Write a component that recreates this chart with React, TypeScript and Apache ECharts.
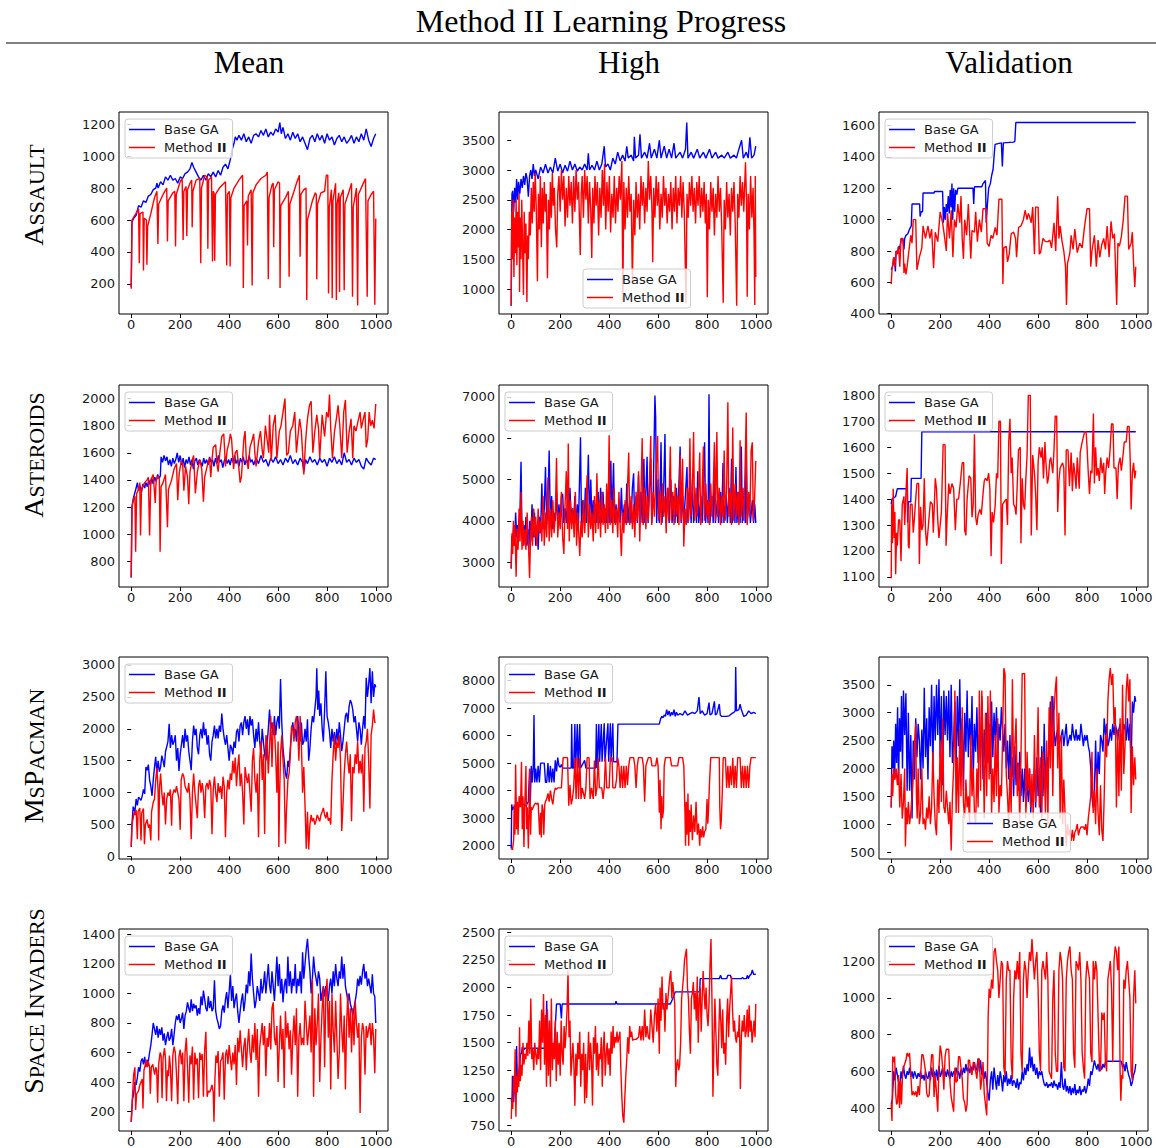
import React, { useEffect, useRef } from "react";
import * as echarts from "echarts";

type P = [number, number][];

// ---------- Titles ----------
const mainTitle = "Method II Learning Progress";
const columnTitles = ["Mean", "High", "Validation"];
const seriesNames = ["Base GA", "Method II"];
const xTicks = [0, 200, 400, 600, 800, 1000];

// ---------- ASSAULT ----------
const assaultMeanBase: P = [[0,180],[3,590],[10,610],[20,630],[30,690],[40,680],[50,720],[60,710],[70,750],[80,760],[90,790],[100,800],[105,830],[110,800],[120,840],[130,820],[140,870],[150,850],[160,880],[170,850],[180,860],[190,830],[200,870],[210,860],[220,890],[230,900],[240,920],[248,960],[255,930],[265,900],[275,870],[285,850],[295,880],[305,850],[315,890],[325,870],[335,900],[345,870],[355,910],[365,880],[375,930],[385,950],[395,920],[405,980],[412,1040],[420,1080],[425,1120],[432,1100],[440,1130],[450,1100],[460,1140],[470,1090],[480,1120],[490,1080],[500,1130],[510,1140],[520,1120],[530,1160],[540,1130],[550,1170],[560,1120],[570,1150],[580,1130],[590,1170],[600,1150],[607,1210],[613,1140],[620,1180],[630,1110],[640,1140],[650,1100],[660,1150],[670,1110],[680,1140],[690,1090],[700,1120],[710,1080],[720,1040],[730,1110],[740,1130],[750,1090],[760,1140],[770,1100],[780,1130],[790,1080],[800,1140],[810,1100],[820,1120],[830,1070],[840,1110],[850,1130],[860,1090],[870,1120],[880,1080],[890,1100],[900,1130],[910,1080],[920,1120],[930,1090],[940,1140],[950,1100],[960,1170],[970,1100],[980,1060],[990,1110],[999,1140]];
const assaultMeanMethod: P = [[0,170],[3,600],[15,630],[30,670],[33,330],[36,640],[48,650],[50,285],[53,610],[62,600],[64,320],[67,560],[80,640],[95,740],[105,780],[109,450],[112,700],[130,760],[145,800],[148,465],[151,720],[170,770],[178,780],[181,435],[184,760],[200,840],[208,860],[212,475],[215,780],[224,810],[227,500],[230,790],[240,830],[247,850],[249,555],[252,780],[265,850],[280,860],[284,330],[287,800],[300,880],[310,870],[313,420],[316,850],[328,870],[332,340],[335,780],[338,770],[341,345],[344,760],[360,800],[385,840],[390,315],[393,760],[401,780],[404,310],[407,740],[420,800],[440,850],[455,880],[458,175],[461,690],[472,720],[475,440],[478,750],[490,790],[494,190],[497,770],[510,820],[530,860],[550,880],[556,900],[560,230],[563,740],[575,820],[580,830],[582,430],[585,790],[600,840],[606,830],[608,175],[611,690],[630,740],[642,780],[645,245],[648,700],[665,780],[675,830],[687,880],[690,370],[693,760],[705,790],[714,800],[717,100],[720,600],[740,720],[752,770],[756,760],[758,230],[761,700],[775,770],[790,780],[797,880],[803,880],[806,140],[809,680],[818,790],[821,110],[824,720],[835,830],[838,100],[841,700],[848,770],[851,150],[854,740],[866,790],[870,160],[873,700],[890,780],[900,830],[904,120],[907,680],[920,800],[925,65],[928,760],[945,820],[957,860],[964,120],[967,720],[980,760],[990,780],[995,70],[999,610]];

const assaultHighBase: P = [[0,720],[1,1650],[3,2600],[6,2650],[10,2300],[14,2700],[18,2450],[22,2850],[26,2500],[30,2800],[35,2600],[40,2850],[45,2700],[50,2900],[55,2750],[60,2950],[65,2850],[70,2550],[75,2900],[80,3000],[85,2850],[90,3100],[95,2900],[100,3000],[110,2850],[120,3050],[130,2950],[140,3100],[150,2950],[160,3050],[170,2950],[180,3200],[190,2980],[200,3100],[210,2950],[220,3080],[230,2980],[240,3150],[250,3000],[260,3100],[270,2980],[280,3050],[290,3000],[300,3100],[310,3000],[315,3280],[320,3000],[330,3080],[340,3000],[350,3150],[360,3000],[370,3100],[380,3400],[385,3050],[395,3100],[405,3000],[415,3200],[425,3100],[435,3300],[445,3150],[455,3250],[465,3150],[472,3400],[478,3200],[490,3250],[500,3150],[503,3560],[508,3200],[520,3250],[526,3600],[532,3200],[545,3300],[555,3200],[565,3450],[572,3200],[585,3350],[595,3200],[605,3500],[612,3200],[625,3400],[635,3200],[645,3350],[655,3200],[665,3450],[672,3200],[690,3300],[700,3200],[712,3350],[717,3800],[722,3200],[735,3300],[745,3200],[760,3350],[770,3200],[785,3300],[795,3200],[810,3350],[820,3200],[835,3300],[845,3200],[860,3250],[870,3200],[885,3300],[895,3200],[910,3250],[920,3200],[930,3350],[941,3500],[948,3200],[960,3300],[968,3200],[975,3550],[982,3200],[992,3250],[999,3400]];
const assaultHighMethod: P = [[0,720],[2,2300],[5,1500],[8,2500],[11,1200],[14,2200],[17,1600],[20,2500],[23,1400],[26,2300],[29,1700],[32,2600],[34,950],[37,2200],[40,1500],[43,2500],[46,1800],[50,900],[53,2300],[56,1600],[60,2100],[64,780],[67,1900],[70,1500],[74,2300],[78,1900],[82,2700],[86,2100],[90,2800],[94,2300],[98,2950],[102,2400],[107,1130],[111,2600],[115,2000],[119,2900],[123,1700],[127,2700],[131,2100],[135,2800],[139,2300],[143,2600],[148,1180],[152,2500],[156,2000],[160,2800],[164,2200],[168,2950],[172,2400],[176,2700],[181,2000],[186,1700],[190,2600],[195,2900],[200,2300],[205,3000],[210,2500],[215,2900],[220,2050],[225,2700],[230,2200],[235,2900],[240,2400],[245,2800],[250,2100],[255,2900],[260,2300],[265,3000],[270,2500],[275,2800],[282,1570],[286,2600],[290,2900],[295,2200],[300,3000],[305,2500],[310,2900],[315,2100],[320,2800],[325,2300],[329,1520],[333,2700],[338,2100],[342,2900],[347,2400],[352,2800],[357,1900],[362,2700],[367,2200],[372,3000],[377,2400],[381,3100],[386,2000],[391,2800],[396,2300],[401,2900],[406,1950],[411,2600],[416,2200],[421,2900],[426,2100],[431,2700],[436,2300],[441,2900],[446,2500],[452,3150],[456,800],[460,2800],[465,2000],[470,2700],[475,2200],[480,2900],[485,2300],[490,2600],[495,1100],[500,2500],[505,1900],[510,2800],[515,2200],[520,2600],[525,2000],[530,2900],[535,2400],[540,2800],[545,2100],[550,2700],[555,2300],[560,3150],[565,2500],[570,2900],[575,2300],[578,1450],[582,2700],[587,2200],[592,2900],[597,2400],[602,2800],[607,2000],[612,2600],[617,2200],[622,2900],[627,2400],[632,2700],[637,2100],[642,2600],[647,2300],[652,2800],[657,2000],[662,2700],[667,2300],[672,2900],[677,2100],[682,2700],[687,2400],[692,2900],[697,2200],[702,2800],[707,2300],[714,760],[718,2600],[723,2200],[728,2800],[733,2400],[738,2900],[743,2300],[748,2700],[753,2100],[758,2800],[763,2400],[768,2900],[773,2200],[778,2700],[783,2300],[788,2800],[793,2100],[797,2600],[801,860],[805,2500],[810,2000],[815,2800],[820,2300],[825,2700],[830,1900],[835,2600],[840,2200],[845,2900],[850,2300],[855,2700],[860,2000],[866,770],[870,2500],[875,2000],[880,2800],[885,2200],[890,2600],[895,1900],[900,2700],[905,2300],[910,2800],[915,2100],[921,720],[925,2600],[930,2200],[935,2900],[940,2400],[945,2800],[950,2300],[957,3130],[961,2500],[964,870],[968,2600],[973,2000],[978,2900],[983,2200],[988,2700],[992,1900],[995,730],[997,2900],[999,1200]];

const assaultValBase: P = [[0,680],[5,700],[8,720],[10,760],[14,740],[17,670],[20,800],[26,790],[30,830],[34,810],[38,850],[42,880],[48,870],[52,810],[55,880],[60,900],[68,910],[75,940],[82,960],[85,1100],[116,1100],[118,1020],[122,1050],[128,1050],[130,1170],[175,1170],[177,1180],[210,1180],[213,980],[217,1080],[221,1000],[225,1100],[229,1050],[233,1150],[237,1040],[241,1190],[245,1080],[248,1230],[251,1000],[255,1200],[259,1050],[263,1190],[268,1160],[272,1200],[334,1200],[337,1100],[340,1210],[370,1210],[375,1230],[385,1250],[388,980],[393,1100],[398,1200],[405,1230],[410,1280],[416,1320],[420,1400],[424,1480],[450,1490],[454,1340],[458,1490],[500,1495],[505,1500],[509,1620],[999,1620]];
const assaultValMethod: P = [[0,590],[3,680],[10,760],[15,700],[20,800],[25,780],[30,830],[35,700],[40,880],[48,880],[52,660],[55,720],[60,650],[65,700],[72,800],[80,900],[85,850],[90,1000],[100,1000],[105,680],[115,760],[125,820],[130,960],[140,880],[150,960],[158,880],[165,940],[173,690],[180,920],[190,860],[200,1050],[210,980],[217,900],[225,800],[230,1040],[238,880],[245,1060],[252,760],[258,1000],[265,950],[272,1100],[280,980],[285,1150],[290,880],[295,750],[300,1000],[308,900],[315,1100],[320,930],[325,750],[330,930],[340,920],[345,1050],[352,860],[360,1000],[368,920],[375,1070],[388,1070],[392,850],[400,830],[408,900],[415,880],[425,950],[432,900],[440,1130],[452,1130],[456,590],[460,820],[470,830],[475,730],[482,780],[490,910],[500,920],[508,880],[512,760],[520,950],[530,960],[540,1000],[547,1060],[555,1000],[560,1040],[565,1020],[572,980],[578,1080],[585,780],[590,1080],[600,1080],[605,780],[610,790],[620,880],[630,860],[640,860],[648,870],[655,820],[665,980],[672,800],[680,1150],[685,880],[690,960],[698,860],[705,800],[712,700],[716,455],[720,720],[730,790],[735,900],[743,810],[750,940],[760,790],[770,850],[780,820],[790,960],[800,1070],[810,1070],[815,700],[820,800],[830,900],[838,700],[845,870],[852,760],[860,840],[868,880],[875,810],[882,960],[890,760],[898,990],[905,880],[912,910],[921,455],[926,850],[932,830],[940,890],[948,1000],[955,1150],[965,1150],[970,810],[980,850],[985,920],[990,720],[995,570],[999,700]];

// ---------- ASTEROIDS ----------
const asteroidsMeanBase: P = [[0,680],[3,1200],[8,1260],[14,1300],[20,1340],[25,1380],[30,1320],[36,1360],[42,1310],[48,1370],[55,1340],[60,1380],[66,1350],[72,1400],[78,1360],[84,1410],[90,1370],[96,1420],[102,1390],[108,1440],[114,1410],[119,1430],[122,1570],[128,1530],[134,1580],[140,1540],[146,1570],[152,1510],[158,1550],[164,1500],[170,1560],[176,1520],[182,1550],[188,1600],[194,1530],[200,1580],[206,1510],[212,1560],[218,1490],[224,1550],[230,1520],[236,1570],[242,1510],[248,1550],[254,1480],[260,1540],[266,1560],[272,1510],[278,1550],[284,1530],[290,1500],[296,1560],[302,1520],[308,1550],[314,1510],[320,1570],[326,1530],[332,1550],[338,1500],[344,1560],[350,1520],[356,1580],[362,1530],[368,1550],[374,1490],[380,1540],[386,1570],[392,1520],[398,1550],[404,1510],[410,1560],[416,1530],[422,1580],[428,1520],[434,1550],[440,1500],[446,1560],[452,1530],[458,1570],[464,1510],[470,1550],[476,1520],[482,1580],[488,1530],[494,1550],[500,1510],[510,1560],[520,1520],[530,1580],[540,1530],[550,1550],[560,1500],[570,1560],[580,1530],[590,1570],[600,1520],[610,1550],[620,1510],[630,1560],[640,1530],[650,1580],[660,1520],[670,1550],[680,1510],[690,1560],[700,1530],[705,1460],[712,1550],[720,1520],[730,1570],[740,1530],[750,1550],[760,1510],[770,1560],[780,1530],[790,1550],[800,1500],[810,1560],[820,1530],[830,1570],[840,1520],[850,1550],[860,1510],[870,1600],[880,1530],[890,1550],[900,1510],[910,1560],[920,1530],[930,1550],[940,1500],[950,1480],[960,1560],[970,1530],[980,1510],[990,1560],[999,1550]];
const asteroidsMeanMethod: P = [[0,680],[3,1200],[10,1260],[15,1280],[18,870],[22,1300],[30,1330],[35,1380],[38,990],[42,1330],[55,1380],[65,1400],[70,1420],[75,990],[80,1400],[90,1440],[98,1230],[102,1400],[110,1430],[115,1400],[118,870],[122,1350],[130,1380],[140,1440],[148,1050],[152,1330],[165,1400],[175,1480],[185,1520],[190,1250],[196,1450],[205,1540],[210,1520],[215,1320],[222,1500],[230,1420],[235,1220],[240,1460],[250,1550],[255,1580],[262,1300],[270,1460],[280,1550],[288,1480],[295,1240],[300,1420],[310,1500],[320,1560],[325,1420],[330,1550],[335,1640],[345,1660],[350,1520],[355,1460],[362,1600],[370,1720],[378,1740],[385,1500],[392,1620],[400,1680],[405,1740],[410,1700],[418,1480],[425,1600],[432,1620],[440,1480],[445,1380],[450,1420],[460,1700],[465,1760],[470,1560],[478,1480],[485,1640],[495,1700],[500,1740],[505,1600],[510,1500],[520,1680],[528,1760],[535,1620],[540,1560],[548,1800],[555,1700],[562,1600],[565,1880],[572,1540],[580,1800],[588,1880],[595,1560],[605,1760],[612,1800],[620,1900],[628,2000],[635,1580],[642,1600],[650,1760],[660,1800],[668,1900],[675,1600],[680,1700],[688,1850],[695,1760],[705,1440],[712,1680],[720,1850],[728,1950],[735,1980],[742,1600],[750,1760],[758,1880],[765,1780],[770,1560],[780,1880],[790,1720],[798,1900],[805,1860],[810,2030],[815,1780],[822,1560],[830,1750],[838,1850],[845,1950],[852,1800],[860,1560],[868,1900],[875,1990],[882,1600],[890,1750],[898,1850],[905,1560],[910,1800],[918,1760],[925,1820],[935,1900],[940,1780],[948,1850],[955,1900],[960,1640],[966,1700],[972,1900],[978,1800],[985,1840],[992,1780],[999,1960]];

const asteroidsHighBase: P = [[0,2850],[2,3630],[6,3500],[10,3900],[14,3400],[18,4200],[22,3600],[26,3900],[30,3500],[35,4000],[40,5430],[44,3700],[48,3400],[52,3900],[56,3500],[60,4100],[64,3400],[68,3800],[72,3300],[76,4000],[80,3500],[85,4400],[90,3600],[95,4200],[100,3400],[105,3900],[110,3300],[115,4100],[120,3700],[125,4900],[130,3800],[135,4300],[140,5300],[145,3900],[150,4400],[155,5700],[160,3900],[165,4600],[170,3800],[175,4200],[180,4000],[185,4700],[190,3950],[195,4400],[200,3950],[205,4600],[210,4650],[215,3950],[220,4300],[225,3950],[230,4500],[235,3950],[240,4800],[245,3950],[250,4300],[255,3950],[260,4600],[265,3950],[270,4400],[275,3950],[283,6020],[287,3950],[293,4500],[298,3950],[303,4800],[308,3950],[315,5600],[320,3950],[325,5000],[330,3950],[335,4500],[340,3950],[345,4400],[350,3950],[355,4700],[360,3950],[365,4800],[370,3950],[375,4700],[380,3950],[385,4300],[390,3950],[395,4600],[400,3950],[407,5450],[411,3950],[418,5400],[422,3950],[428,4400],[433,3950],[440,4500],[445,3950],[450,4800],[455,3950],[462,4400],[467,3950],[472,4900],[477,3950],[484,4500],[489,3950],[495,4800],[500,5150],[504,3950],[510,4600],[515,3950],[520,5100],[525,3950],[530,4700],[535,3950],[542,5500],[546,3950],[555,5550],[559,3950],[565,4800],[570,5500],[574,3950],[580,4600],[587,7030],[590,6500],[594,3950],[600,5000],[605,3950],[612,5900],[616,3950],[622,4600],[628,6100],[632,3950],[640,4800],[645,3950],[652,5000],[657,3950],[664,4600],[669,3950],[675,4800],[680,3950],[690,5800],[694,3950],[700,4600],[705,3950],[718,5300],[722,3950],[730,4700],[735,3950],[740,5000],[745,3950],[752,4600],[757,3950],[762,5200],[766,3950],[775,4600],[780,3950],[790,5900],[794,3950],[800,4500],[804,3950],[808,7060],[812,3950],[820,4600],[825,3950],[830,5400],[834,3950],[842,4500],[847,3950],[855,4700],[860,3950],[865,5400],[869,3950],[878,4600],[883,3950],[890,4800],[895,3950],[900,5500],[904,3950],[910,4600],[914,3950],[918,5300],[922,3950],[930,4700],[935,3950],[940,5800],[944,3950],[952,4800],[956,3950],[960,5700],[964,3950],[972,4600],[977,3950],[985,4500],[990,3950],[995,4400],[999,3950]];
const asteroidsHighMethod: P = [[0,2850],[3,3700],[6,3200],[9,4000],[12,3400],[15,3900],[20,2650],[24,3800],[28,3300],[32,4300],[36,3500],[40,4700],[44,3300],[48,4000],[52,3400],[56,3800],[60,3300],[65,4200],[70,3500],[75,2620],[79,3600],[83,4100],[87,3400],[92,4300],[96,3600],[100,4100],[105,3400],[110,4300],[115,3700],[120,4000],[125,3500],[130,4600],[135,3400],[140,4200],[145,3600],[150,5050],[155,3500],[160,4300],[165,3600],[170,4500],[175,3700],[180,4100],[185,5520],[190,3600],[195,4200],[200,3800],[205,4700],[210,3600],[215,3200],[220,4400],[225,5200],[230,3800],[233,5870],[237,3500],[242,4500],[247,3800],[252,4300],[257,3600],[262,4700],[267,3400],[272,4200],[280,3150],[285,4000],[290,3600],[295,4500],[300,3700],[305,4300],[310,5100],[315,3600],[320,4400],[325,3800],[330,4200],[335,3500],[340,4600],[345,3700],[350,5150],[355,3800],[360,4500],[365,3600],[370,4700],[375,3900],[380,4400],[385,3700],[390,4900],[395,3800],[400,6070],[404,3900],[410,4500],[415,3700],[420,4800],[425,3900],[430,4300],[435,3600],[440,4700],[445,3900],[450,3150],[455,4200],[460,3700],[465,4500],[470,3900],[475,4800],[480,5650],[484,3900],[490,4600],[495,3800],[500,4400],[505,3600],[510,4700],[515,4000],[520,5200],[525,3500],[530,4600],[535,6000],[539,3900],[545,4800],[550,3800],[555,4600],[560,4000],[565,5000],[570,6050],[574,3900],[580,4700],[585,4100],[590,5000],[598,6050],[602,4000],[608,4700],[613,3900],[618,4900],[623,4100],[628,4600],[633,3700],[638,4800],[643,4000],[650,5800],[654,4000],[660,4700],[665,3900],[670,4900],[675,4100],[680,4600],[685,3900],[690,5600],[695,4000],[700,5500],[705,3380],[710,4300],[715,3900],[720,4800],[725,4000],[730,6000],[734,4100],[740,4700],[745,6150],[749,4000],[755,4800],[760,4100],[765,4600],[770,5650],[774,3900],[780,4700],[785,5800],[789,4000],[795,4900],[800,4100],[805,4500],[810,3900],[815,4900],[820,4100],[825,4700],[830,5900],[834,4000],[840,6150],[844,4100],[850,4800],[855,3900],[860,4600],[865,4100],[870,5700],[874,4000],[880,4800],[885,6870],[889,4100],[895,4700],[900,3900],[905,6260],[909,4000],[915,4900],[920,4100],[925,4700],[930,3900],[935,5950],[939,4100],[945,4800],[950,4000],[955,5200],[960,6620],[964,3900],[970,4700],[975,4100],[980,5700],[985,5900],[989,4000],[994,4500],[999,5450]];

const asteroidsValBase: P = [[0,1380],[3,1400],[18,1410],[25,1440],[65,1440],[67,1310],[70,1390],[80,1390],[82,1480],[122,1480],[125,1660],[999,1660]];
const asteroidsValMethod: P = [[0,1095],[2,1380],[5,1230],[8,1440],[12,1250],[15,1350],[18,1110],[22,1270],[25,1220],[30,1320],[35,1320],[40,1160],[45,1380],[52,1410],[55,1300],[60,1420],[65,1520],[70,1220],[73,1210],[78,1380],[85,1380],[90,1270],[95,1330],[100,1400],[105,1460],[112,1460],[115,1150],[120,1370],[125,1280],[130,1300],[135,1480],[140,1280],[145,1220],[152,1300],[160,1390],[168,1380],[172,1270],[180,1480],[185,1440],[190,1320],[195,1250],[205,1350],[212,1610],[220,1610],[224,1220],[228,1320],[235,1460],[240,1420],[248,1460],[255,1440],[262,1280],[268,1400],[275,1400],[282,1460],[290,1540],[296,1540],[300,1280],[305,1260],[310,1400],[318,1490],[325,1480],[330,1330],[335,1380],[340,1650],[345,1330],[350,1300],[355,1340],[362,1360],[368,1340],[375,1420],[380,1470],[385,1480],[392,1470],[398,1500],[403,1440],[408,1180],[412,1350],[418,1310],[425,1380],[430,1500],[435,1480],[440,1700],[446,1700],[450,1150],[455,1380],[462,1390],[470,1400],[475,1300],[480,1620],[485,1710],[490,1500],[494,1560],[500,1380],[505,1370],[510,1340],[515,1460],[520,1590],[527,1600],[530,1230],[535,1480],[540,1380],[545,1360],[550,1480],[555,1570],[560,1800],[568,1800],[572,1260],[578,1570],[585,1500],[590,1420],[595,1280],[600,1540],[605,1600],[612,1560],[617,1600],[622,1480],[628,1620],[632,1540],[638,1460],[642,1480],[648,1550],[652,1560],[660,1500],[665,1590],[670,1720],[676,1720],[680,1350],[685,1470],[690,1520],[700,1540],[705,1520],[710,1260],[715,1590],[722,1590],[728,1450],[735,1580],[740,1430],[745,1540],[750,1500],[755,1440],[760,1560],[768,1440],[772,1580],[780,1620],[790,1660],[796,1660],[800,1600],[805,1500],[810,1420],[815,1510],[820,1500],[826,1730],[830,1460],[835,1600],[840,1490],[845,1520],[850,1470],[856,1560],[862,1500],[868,1540],[872,1420],[876,1500],[882,1560],[888,1520],[894,1590],[900,1690],[906,1690],[910,1520],[918,1520],[923,1400],[928,1530],[935,1560],[940,1510],[946,1560],[952,1620],[960,1620],[965,1680],[972,1680],[976,1560],[980,1360],[985,1500],[990,1540],[995,1480],[999,1510]];

// ---------- MSPACMAN ----------
const pacmanMeanBase: P = [[0,150],[3,500],[8,780],[15,700],[20,900],[25,800],[30,930],[40,880],[45,950],[50,1050],[55,980],[60,1400],[65,1350],[70,1440],[75,1200],[80,1100],[85,950],[90,1200],[95,1400],[100,1560],[105,1300],[110,1500],[115,1330],[120,1400],[125,1580],[130,1500],[135,1400],[140,1640],[150,1800],[155,2080],[160,1700],[165,1900],[170,1750],[175,1800],[180,1900],[185,1500],[190,1700],[195,1340],[200,1600],[205,1750],[210,1900],[215,1700],[220,2000],[225,1800],[230,1900],[235,1650],[240,1500],[245,1350],[250,1800],[255,2050],[260,1900],[265,2000],[270,1700],[275,1600],[280,1900],[285,2000],[290,1850],[295,2100],[300,1900],[305,2000],[310,1750],[315,1900],[320,1600],[325,1500],[330,1800],[335,1900],[340,2050],[345,1850],[350,2000],[355,1850],[360,2050],[365,1950],[370,2240],[375,2000],[380,1850],[385,1750],[390,1900],[395,1700],[400,1500],[405,1750],[410,1700],[415,1600],[420,1800],[425,1700],[430,1950],[435,2000],[440,1800],[445,2050],[450,2100],[455,1900],[460,2100],[465,2200],[470,2000],[475,2150],[480,1900],[485,2200],[490,2050],[495,2150],[500,1900],[505,1700],[510,2000],[515,1800],[520,2100],[525,1800],[530,1600],[535,2000],[540,1800],[545,1600],[550,1500],[555,1750],[560,2000],[565,2300],[570,2000],[575,2100],[580,1900],[585,2200],[590,1900],[595,2100],[600,2200],[605,2000],[610,2780],[615,2100],[620,1700],[625,1500],[630,1300],[635,1220],[640,1500],[645,1400],[650,1700],[655,1950],[660,2100],[665,1900],[670,2000],[675,1800],[680,2200],[685,1900],[690,1800],[695,2100],[700,1750],[705,1800],[710,2000],[715,1800],[720,2150],[725,1500],[730,1700],[735,2000],[740,2200],[745,2100],[750,2300],[755,2500],[758,2950],[762,2300],[766,2600],[770,2200],[775,2400],[780,2000],[785,1800],[790,2300],[795,2900],[800,2200],[805,2100],[810,1950],[815,1700],[820,2000],[825,1800],[830,1950],[835,1750],[840,2000],[845,1800],[850,2100],[855,1900],[860,1650],[865,1800],[870,2000],[875,2200],[880,2250],[885,2100],[890,2350],[895,2450],[900,2400],[905,2300],[910,2100],[915,2200],[920,2000],[925,1800],[930,2100],[935,2000],[940,1750],[945,2000],[950,2200],[955,2000],[960,2800],[965,2500],[970,2700],[975,2950],[980,2400],[985,2900],[990,2500],[995,2700],[999,2650]];
const pacmanMeanMethod: P = [[0,150],[3,500],[8,600],[12,700],[15,650],[20,730],[25,270],[28,700],[35,760],[40,250],[43,680],[50,750],[54,190],[58,500],[65,580],[70,450],[75,500],[80,250],[83,700],[90,850],[95,900],[100,1200],[105,1390],[110,1000],[112,250],[116,1100],[120,1300],[125,1000],[130,800],[135,1000],[140,500],[145,900],[150,1000],[155,950],[160,1050],[165,480],[168,950],[175,1050],[180,1000],[185,1100],[190,1000],[195,900],[200,420],[204,1200],[210,1300],[215,1250],[220,1100],[225,1050],[230,1000],[235,1150],[240,900],[245,270],[250,1000],[255,1300],[260,1000],[265,800],[270,600],[275,1100],[280,1200],[285,1000],[290,1150],[295,1000],[300,600],[305,1100],[310,1150],[315,1050],[320,1200],[325,1100],[330,350],[335,1050],[340,1250],[345,1000],[350,850],[355,1150],[360,1000],[365,1100],[370,900],[375,1250],[380,1100],[385,300],[390,1000],[395,1200],[400,1050],[405,1300],[410,1200],[415,1500],[420,1300],[425,1550],[430,1100],[435,1400],[440,1600],[445,1100],[450,1300],[455,1000],[460,500],[465,1400],[470,1250],[475,1150],[480,1300],[485,1000],[490,700],[495,1500],[500,1700],[505,1200],[510,1000],[515,1300],[520,300],[525,1500],[530,1800],[535,1200],[540,1600],[545,350],[550,1900],[555,1800],[560,1300],[565,1700],[570,2200],[575,1400],[580,2100],[585,2000],[590,1600],[595,1000],[600,1800],[603,150],[606,900],[610,1600],[615,1900],[620,1500],[625,1200],[630,200],[634,700],[640,1200],[645,1300],[650,1600],[655,2050],[660,2000],[665,1800],[670,2100],[675,2200],[680,2000],[685,1500],[690,2200],[695,1800],[700,1000],[705,1400],[710,800],[715,120],[720,700],[725,110],[730,500],[735,650],[740,550],[745,600],[750,500],[755,560],[760,650],[765,600],[770,550],[775,650],[780,700],[785,760],[790,650],[795,600],[800,700],[805,560],[810,600],[815,500],[820,1200],[825,1600],[830,1900],[835,1500],[840,1800],[845,1700],[850,1900],[855,1500],[860,400],[865,800],[870,1300],[875,1600],[880,1800],[885,1500],[890,1300],[895,1600],[900,550],[905,1400],[910,1300],[915,1600],[920,1450],[925,1800],[930,1300],[935,1500],[940,1300],[945,1600],[950,700],[955,1700],[960,1800],[965,2000],[970,1500],[975,750],[980,1900],[985,2050],[990,2300],[995,2100],[999,2100]];

const pacmanHighBase: P = [[0,1900],[2,3500],[5,3300],[10,3400],[20,3450],[30,3400],[40,3550],[50,3500],[60,3450],[70,3600],[75,4800],[78,3600],[82,4900],[86,4300],[90,4850],[93,6750],[96,4300],[100,4800],[105,4300],[110,4900],[115,4300],[120,5000],[135,5000],[140,4300],[145,4300],[150,5000],[155,4300],[160,4900],[165,4300],[170,4800],[175,4300],[180,5100],[185,4700],[190,5200],[195,4900],[200,4850],[205,4950],[210,4820],[245,4820],[247,6420],[250,4820],[255,4820],[260,6420],[263,4820],[270,6420],[273,4820],[280,6420],[283,4820],[300,5100],[305,4820],[345,4820],[348,6420],[351,4820],[358,6420],[361,5050],[368,6420],[371,5050],[380,6450],[383,5050],[395,6450],[398,5050],[405,6450],[408,5050],[415,6450],[418,5050],[432,5050],[436,6420],[605,6420],[610,6600],[615,6700],[620,6650],[625,6750],[630,6700],[635,6950],[640,6750],[645,6900],[650,6700],[655,6850],[660,6750],[665,6950],[670,6700],[675,6850],[680,6750],[690,6800],[700,6750],[710,6900],[720,6750],[730,6800],[740,6850],[750,6800],[760,6900],[767,7400],[772,6800],[780,6900],[790,6750],[800,6800],[808,7200],[812,6750],[820,6800],[830,7250],[834,6750],[840,6800],[850,7150],[854,6750],[860,6700],[870,6700],[880,6700],[890,6720],[900,6800],[910,6850],[915,6900],[917,8500],[920,6900],[930,6950],[935,7150],[940,6950],[950,6700],[960,6750],[970,6900],[980,6800],[990,6850],[999,6800]];
const pacmanHighMethod: P = [[0,1900],[5,1850],[10,2200],[12,3500],[15,2400],[18,4950],[22,2600],[25,3600],[28,2400],[32,3800],[38,3400],[42,5050],[45,2600],[48,3800],[52,1950],[55,3400],[60,4900],[63,2600],[66,3400],[70,1900],[73,3300],[76,4800],[79,2400],[82,3400],[85,3300],[90,3400],[95,3500],[100,3550],[105,3500],[110,3550],[113,3000],[116,2400],[120,3200],[123,2300],[126,3500],[130,3300],[133,2400],[137,3500],[140,3600],[145,3700],[150,3900],[155,3600],[160,4000],[165,3700],[170,3500],[175,3900],[180,4100],[185,4050],[190,4100],[205,4100],[212,5200],[230,5200],[235,3450],[240,4200],[245,3500],[250,3700],[255,4100],[260,5200],[265,3700],[270,5200],[275,3700],[280,5200],[285,3700],[290,4100],[300,3700],[305,4100],[310,5200],[318,5200],[322,3700],[328,4100],[335,3700],[340,5100],[345,3800],[350,4100],[355,5200],[360,4100],[370,4100],[375,3700],[380,4100],[385,5200],[390,4100],[400,4100],[405,5200],[412,5200],[415,4100],[425,4100],[430,4400],[435,5200],[440,4900],[445,4100],[450,4900],[455,4100],[460,4900],[465,4100],[470,4900],[475,4200],[480,4900],[485,5200],[500,5200],[505,4900],[510,4100],[515,4900],[520,5200],[535,5200],[540,4900],[545,3600],[550,4900],[560,5200],[570,5200],[575,4900],[590,4900],[595,5200],[600,4900],[605,3200],[608,4400],[612,2600],[615,3800],[618,3000],[622,3300],[625,4900],[630,5200],[650,5200],[655,4900],[680,4900],[685,5200],[700,5200],[705,4900],[710,3100],[712,2000],[715,3600],[718,2400],[722,3900],[725,2000],[728,3300],[732,2500],[735,3500],[740,2200],[745,3100],[750,2500],[755,3600],[760,2400],[765,2800],[770,2000],[773,2600],[778,2300],[782,2700],[786,2300],[790,2500],[795,2600],[800,3700],[803,2800],[806,3300],[810,4300],[815,5200],[850,5200],[852,3400],[855,2600],[858,2900],[862,3900],[866,5200],[875,5200],[880,4100],[885,4900],[890,4100],[895,4900],[900,4200],[905,5200],[910,4100],[915,4900],[920,4100],[925,5200],[935,5200],[940,4100],[945,4900],[950,4100],[955,4900],[960,4100],[965,4900],[970,4100],[975,4900],[980,5200],[999,5200]];

const pacmanValBase: P = [[0,1300],[3,2400],[7,2000],[10,2500],[14,1800],[18,2800],[22,2100],[26,3100],[30,1700],[34,2900],[38,2300],[42,3300],[46,2000],[50,3400],[55,2600],[60,3350],[65,1600],[70,3000],[75,1600],[80,2600],[85,1100],[90,2500],[95,1800],[100,2900],[105,2200],[110,2800],[115,2500],[120,1800],[125,2700],[130,2000],[135,3450],[140,2200],[145,2900],[150,1800],[155,3100],[160,2400],[165,3500],[170,2000],[175,3300],[180,2500],[185,3500],[190,2600],[195,3600],[200,2200],[205,3300],[210,1700],[215,3400],[220,2600],[225,3300],[230,2500],[235,3400],[240,2200],[245,3500],[250,2100],[255,2500],[260,3200],[265,2000],[270,3300],[275,2400],[280,3600],[285,2200],[290,2900],[295,1600],[300,3000],[305,2300],[310,3400],[315,2200],[320,2900],[325,2400],[330,3300],[335,1800],[340,2800],[345,2300],[350,3100],[355,2100],[360,2600],[365,2200],[370,3300],[375,1800],[380,2700],[385,2000],[390,3000],[395,2100],[400,2800],[405,1900],[410,3200],[415,2200],[420,3000],[425,2500],[430,3100],[435,2200],[440,2800],[445,2500],[450,3100],[455,2700],[460,2300],[465,2800],[470,2000],[475,2500],[480,1800],[485,2600],[490,1800],[495,2200],[500,1500],[505,2400],[510,1700],[515,2100],[520,1600],[525,2300],[530,1500],[535,2000],[540,1400],[545,2000],[550,1300],[555,1800],[560,1400],[565,2000],[570,1200],[575,1700],[580,1500],[585,2000],[590,1300],[595,2200],[600,1500],[605,2000],[610,1200],[615,2400],[620,1500],[625,2800],[630,1600],[635,2200],[640,2000],[645,2600],[650,3200],[655,2400],[660,3300],[665,2700],[670,2400],[675,2600],[680,2700],[685,2400],[690,2500],[695,2600],[700,2700],[705,2400],[710,2600],[715,2800],[720,2400],[725,2500],[730,2600],[735,2500],[740,2800],[745,2600],[750,2500],[755,2700],[760,2500],[765,2600],[770,2500],[775,2800],[780,2600],[785,2400],[790,2600],[795,2500],[800,2600],[805,2400],[810,2300],[815,2000],[820,1500],[825,1300],[830,1600],[835,2500],[840,1600],[845,2300],[850,1900],[855,2600],[860,2500],[865,2300],[870,2900],[875,2600],[880,2800],[885,2400],[890,2500],[895,2700],[900,2500],[905,2800],[910,2600],[915,2800],[920,2700],[925,2500],[930,2700],[935,2800],[940,2500],[945,2600],[950,2800],[955,2700],[960,2500],[965,2900],[970,2500],[975,2800],[980,2000],[985,3200],[990,3000],[995,3300],[999,3200]];
const pacmanValMethod: P = [[0,1300],[3,1900],[6,1500],[10,2000],[15,1800],[20,2000],[25,1700],[30,2000],[35,1300],[40,1900],[45,1100],[50,1400],[55,2000],[58,600],[62,1300],[66,1000],[70,1400],[75,1000],[80,1200],[85,1500],[90,1900],[95,2400],[100,2800],[103,1500],[106,1100],[110,2000],[115,1000],[120,1200],[125,2000],[130,1000],[135,1100],[140,900],[145,1300],[150,1100],[155,1500],[160,1000],[165,1300],[170,2300],[175,1500],[180,1000],[185,800],[190,1800],[195,1200],[200,2500],[205,1400],[210,2900],[215,1300],[220,1200],[225,1600],[230,1300],[235,1000],[240,1400],[245,530],[250,1500],[255,2000],[260,3400],[265,1200],[270,2200],[275,1200],[280,2700],[285,1500],[290,3100],[295,1400],[300,1100],[305,1800],[310,1300],[315,1500],[320,1000],[325,2600],[330,1500],[335,2000],[340,1200],[345,1000],[350,2000],[355,1300],[360,3400],[365,1600],[370,3400],[375,2500],[380,1100],[385,3000],[390,1500],[395,3300],[400,1800],[405,3400],[410,1200],[415,2000],[420,1400],[425,2600],[430,1500],[435,2900],[440,1200],[445,1700],[450,1500],[455,2600],[460,3800],[465,3700],[470,1900],[475,1500],[480,1000],[485,2000],[490,1200],[495,3600],[500,1800],[505,2400],[510,2900],[515,1500],[520,2100],[525,1000],[530,2200],[535,3700],[545,3700],[550,1100],[555,2300],[560,1600],[565,2000],[570,1300],[575,1900],[580,1100],[585,2600],[590,1400],[595,2000],[600,3100],[605,1300],[610,2200],[615,1100],[620,2300],[625,2000],[630,1200],[635,2500],[640,1000],[645,3100],[650,2000],[655,3300],[660,1500],[665,3000],[670,3400],[675,3650],[680,2000],[685,3000],[690,1100],[695,2600],[700,1000],[705,1800],[710,1200],[715,600],[720,1000],[725,800],[730,900],[735,700],[740,900],[745,700],[750,850],[755,900],[760,1000],[765,800],[770,900],[775,950],[780,950],[785,950],[790,900],[795,1000],[800,800],[805,1100],[810,1300],[815,1500],[820,2300],[825,1200],[830,1600],[835,1000],[840,2000],[845,1200],[850,800],[855,1700],[860,900],[865,700],[870,1500],[875,2600],[880,2200],[885,3200],[890,3600],[895,3800],[900,3500],[905,3700],[910,2800],[915,3100],[920,1300],[925,2700],[930,1500],[935,2900],[940,1600],[945,3500],[950,1900],[955,2400],[960,3400],[965,3700],[970,3200],[975,3600],[980,1200],[985,2400],[990,1700],[995,2200],[999,1800]];

// ---------- SPACE INVADERS ----------
const invadersMeanBase: P = [[0,130],[5,280],[10,320],[15,400],[20,380],[25,430],[30,500],[35,470],[40,540],[45,560],[50,520],[55,570],[60,500],[65,550],[70,540],[75,600],[80,650],[85,720],[90,800],[95,760],[100,720],[105,780],[110,700],[115,760],[120,720],[125,770],[130,680],[135,730],[140,650],[145,700],[150,740],[155,680],[160,700],[165,760],[170,650],[175,720],[180,800],[185,850],[190,820],[195,860],[200,800],[205,830],[210,870],[215,760],[220,850],[225,880],[230,940],[235,900],[240,870],[245,960],[250,880],[255,930],[260,900],[265,920],[270,850],[275,900],[280,860],[285,980],[290,920],[295,1020],[300,960],[305,900],[310,880],[315,980],[320,900],[325,950],[330,880],[335,900],[340,1090],[345,880],[350,830],[355,800],[360,760],[365,780],[370,880],[375,920],[380,870],[385,960],[390,1010],[395,900],[400,1010],[405,1130],[410,950],[415,1050],[420,900],[425,960],[430,1000],[435,880],[440,800],[445,880],[450,950],[455,1000],[460,880],[465,950],[470,1060],[475,1000],[480,1150],[485,1050],[490,1270],[495,1100],[500,1000],[505,900],[510,950],[515,1050],[520,1000],[525,950],[530,1100],[535,1000],[540,1050],[545,1150],[550,1000],[555,1100],[560,1200],[565,1060],[570,1000],[575,1150],[580,1050],[585,950],[590,1100],[595,1250],[600,1050],[605,1200],[610,1000],[615,1100],[620,940],[625,1050],[630,1100],[635,1000],[640,1250],[645,1050],[650,1150],[655,1000],[660,1100],[665,1050],[670,1200],[675,1000],[680,1100],[685,1050],[690,1150],[695,1000],[700,1280],[705,1100],[710,1200],[715,1300],[720,1370],[725,1250],[730,1150],[735,1000],[740,1100],[745,1250],[750,1150],[755,1100],[760,1050],[765,1150],[770,1100],[775,950],[780,1000],[785,1050],[790,980],[795,1050],[800,1000],[805,950],[810,1050],[815,1100],[820,1000],[825,1150],[830,1050],[835,1200],[840,1100],[845,1050],[850,1150],[855,1100],[860,1250],[865,1100],[870,1200],[875,1050],[880,1000],[885,950],[890,1000],[895,930],[900,900],[905,850],[910,900],[915,950],[920,1000],[925,1100],[930,1050],[935,1120],[940,1060],[945,1150],[950,1200],[955,1100],[960,1150],[965,1050],[970,1100],[975,1050],[980,1000],[985,1130],[990,1000],[995,980],[999,800]];
const invadersMeanMethod: P = [[0,130],[5,300],[10,450],[15,500],[18,210],[22,320],[30,340],[35,380],[40,400],[45,420],[48,220],[52,480],[58,520],[62,550],[66,500],[70,540],[75,500],[78,320],[82,500],[88,520],[92,480],[96,450],[100,500],[104,480],[108,260],[112,520],[118,600],[122,580],[126,290],[130,560],[136,630],[140,560],[144,270],[148,480],[152,440],[156,580],[160,500],[165,270],[170,580],[175,640],[180,600],[185,450],[190,250],[195,570],[200,620],[205,520],[210,600],[215,270],[220,600],[225,700],[230,500],[235,260],[240,580],[245,520],[250,640],[255,280],[260,600],[265,520],[270,560],[275,290],[280,600],[285,550],[290,590],[295,300],[300,620],[305,740],[310,300],[315,340],[320,330],[325,350],[330,380],[335,330],[338,130],[342,420],[346,580],[350,530],[355,610],[360,300],[365,540],[370,560],[375,600],[380,280],[385,580],[390,620],[395,520],[400,650],[405,560],[410,480],[415,600],[420,520],[425,650],[430,380],[435,700],[440,600],[445,750],[450,620],[455,500],[460,640],[465,700],[470,480],[475,650],[480,760],[485,600],[490,530],[495,720],[500,600],[505,800],[510,550],[515,760],[520,300],[525,640],[530,720],[535,800],[540,650],[545,780],[550,440],[555,700],[560,640],[565,800],[570,620],[575,900],[580,940],[585,700],[590,650],[595,780],[600,400],[605,650],[610,850],[615,620],[620,760],[625,360],[630,880],[635,700],[640,800],[645,620],[650,750],[655,450],[660,700],[665,850],[670,650],[675,900],[680,300],[685,700],[690,800],[695,650],[700,700],[705,650],[710,950],[715,800],[720,650],[725,750],[730,850],[735,600],[740,1100],[745,300],[750,900],[755,650],[760,800],[765,1000],[770,400],[775,700],[780,900],[785,1050],[790,500],[795,1000],[800,1100],[805,700],[810,950],[815,350],[820,1000],[825,750],[830,600],[835,950],[840,700],[845,420],[850,600],[855,1000],[860,750],[865,600],[870,850],[875,350],[880,800],[885,1000],[890,700],[895,900],[900,600],[905,900],[910,650],[915,950],[920,800],[925,700],[930,800],[935,190],[940,700],[945,800],[950,750],[955,450],[960,780],[965,700],[970,760],[975,800],[980,650],[985,800],[990,700],[995,460],[999,760]];

const invadersHighBase: P = [[0,1000],[3,930],[5,1200],[10,960],[15,1200],[20,1050],[22,1470],[25,1150],[30,1200],[35,1320],[38,1400],[42,1400],[45,1460],[50,1430],[55,1450],[140,1450],[145,1880],[148,1500],[150,1450],[160,1460],[175,1460],[180,1650],[185,1850],[200,1850],[205,1720],[208,1850],[425,1850],[428,1875],[432,1850],[650,1850],[660,1900],[670,1960],[770,1960],[772,2080],[850,2080],[855,2110],[860,2080],[880,2080],[885,2110],[895,2110],[900,2080],[940,2080],[945,2090],[950,2080],[960,2080],[965,2110],[968,2080],[975,2110],[980,2120],[985,2160],[990,2120],[999,2120]];
const invadersHighMethod: P = [[0,810],[3,1000],[6,900],[10,1200],[13,1050],[16,1440],[19,830],[22,1200],[25,1050],[28,1250],[31,1100],[34,1640],[37,1150],[40,1300],[44,1200],[48,1500],[52,1300],[56,1400],[60,1350],[64,1500],[68,1380],[72,1700],[76,1400],[80,1900],[84,1350],[88,1450],[92,1250],[96,1500],[100,1400],[104,1300],[108,1450],[112,1350],[116,1700],[120,1250],[124,1800],[128,1500],[132,1940],[136,1300],[140,1750],[144,1100],[148,1800],[152,1200],[156,1700],[160,1100],[164,1900],[168,1250],[172,1500],[176,1350],[180,1700],[184,1150],[188,1600],[192,1300],[196,1500],[200,1200],[204,1700],[208,1400],[212,1300],[216,1650],[220,1450],[224,1600],[228,1800],[232,2150],[236,1550],[240,1700],[244,1200],[248,1350],[252,1500],[256,1300],[260,930],[264,1400],[268,1200],[272,1500],[276,1350],[280,1600],[284,1100],[288,1400],[292,1250],[296,1500],[300,950],[304,1400],[308,1000],[312,1300],[316,1600],[320,1250],[324,1500],[328,1350],[332,930],[336,1550],[340,1400],[344,1650],[348,1250],[352,1500],[356,1200],[360,1400],[364,1350],[368,1550],[372,1100],[376,1450],[380,1600],[384,1200],[388,1400],[392,1500],[396,1300],[400,1450],[404,1200],[408,1600],[412,1400],[416,1650],[420,1450],[424,1550],[428,1500],[432,1600],[436,1500],[440,1550],[444,1600],[448,1250],[452,1000],[456,830],[460,775],[464,1000],[468,1200],[472,1350],[476,1550],[480,1400],[484,1650],[488,1550],[492,1600],[496,1520],[500,1530],[510,1530],[520,1550],[525,1650],[530,1520],[535,1650],[540,1520],[545,1800],[550,1550],[555,1650],[560,1550],[565,1530],[570,1800],[575,1650],[580,1500],[585,1750],[590,1850],[595,1600],[600,1900],[605,1400],[608,2000],[612,1700],[616,2100],[620,1800],[624,1850],[628,1600],[632,1950],[636,1800],[640,1900],[644,2000],[648,2100],[652,2150],[656,1900],[660,2050],[664,1950],[668,1850],[672,1100],[676,1300],[680,1350],[684,1250],[688,1300],[692,1500],[696,1900],[700,2000],[704,2100],[708,2250],[712,2300],[716,2350],[720,2000],[724,1900],[728,1600],[732,1400],[736,1900],[740,1950],[744,2050],[748,1800],[752,1950],[756,1700],[760,2100],[764,1500],[768,1900],[772,2000],[776,1600],[780,1900],[784,2150],[788,1950],[792,1800],[796,2000],[800,1750],[804,1650],[808,1850],[812,2200],[816,2440],[820,1900],[824,1010],[828,1500],[832,1900],[836,1600],[840,1300],[844,1200],[848,1600],[852,1900],[856,1700],[860,1450],[864,1800],[868,1400],[872,1500],[876,1300],[880,1700],[884,1900],[888,1550],[892,1800],[896,1950],[900,2100],[904,1800],[908,1600],[912,1700],[916,1550],[920,1500],[924,1600],[928,1550],[932,1750],[936,1080],[940,1550],[944,1700],[948,1600],[952,1750],[956,1550],[960,1600],[964,1800],[968,1550],[972,1840],[976,1600],[980,1700],[984,1500],[988,1600],[992,1700],[996,1550],[999,1850]];

const invadersValBase: P = [[0,420],[5,450],[10,600],[15,550],[20,620],[25,580],[30,540],[35,500],[40,600],[45,560],[50,630],[55,580],[60,560],[65,600],[70,580],[75,620],[80,570],[85,600],[90,560],[95,600],[100,580],[105,560],[110,590],[115,570],[120,600],[125,560],[130,580],[135,550],[140,600],[145,570],[150,560],[155,600],[160,550],[165,620],[170,570],[175,600],[180,560],[185,610],[190,550],[195,630],[200,570],[205,590],[210,620],[215,560],[220,600],[225,570],[230,610],[235,580],[240,560],[245,600],[250,570],[255,600],[260,590],[265,620],[270,580],[275,600],[280,560],[285,610],[290,580],[295,620],[300,590],[305,640],[310,600],[315,620],[320,590],[325,630],[330,600],[335,610],[340,650],[345,600],[350,620],[355,670],[360,600],[365,660],[370,580],[375,620],[380,560],[385,600],[390,540],[395,480],[400,440],[405,550],[410,600],[415,500],[420,620],[425,560],[430,500],[435,580],[440,520],[445,600],[450,560],[455,490],[460,580],[465,540],[470,600],[475,520],[480,560],[485,530],[490,580],[495,520],[500,550],[505,540],[510,510],[515,560],[520,500],[525,540],[530,530],[535,600],[540,550],[545,620],[550,580],[555,640],[560,600],[565,730],[570,620],[575,680],[580,600],[585,640],[590,580],[595,620],[600,560],[605,600],[610,580],[615,600],[620,560],[625,530],[630,520],[635,540],[640,510],[645,530],[650,520],[655,540],[660,510],[665,550],[670,520],[675,530],[680,500],[685,540],[690,510],[695,650],[700,520],[705,500],[710,560],[715,490],[720,520],[725,480],[730,520],[735,470],[740,510],[745,480],[750,530],[755,470],[760,500],[765,480],[770,520],[775,470],[780,500],[785,490],[790,520],[795,480],[800,510],[805,560],[810,520],[815,600],[820,580],[825,620],[830,660],[835,630],[840,610],[845,640],[850,600],[855,630],[860,610],[865,640],[870,620],[875,650],[880,655],[940,655],[945,620],[950,640],[955,600],[960,650],[965,610],[970,580],[975,560],[980,520],[985,540],[990,580],[995,600],[999,640]];
const invadersValMethod: P = [[0,420],[3,330],[6,680],[10,650],[14,680],[18,480],[22,420],[26,430],[30,580],[34,400],[38,550],[42,420],[46,580],[50,620],[55,640],[60,660],[65,700],[70,680],[75,700],[80,580],[85,470],[90,490],[95,470],[100,490],[105,460],[110,520],[115,470],[120,580],[125,690],[130,690],[135,650],[140,600],[145,480],[150,460],[155,470],[160,590],[165,690],[170,690],[175,460],[180,580],[185,480],[190,380],[195,620],[200,740],[205,700],[210,620],[215,500],[220,680],[225,720],[235,720],[240,540],[245,460],[250,420],[255,380],[260,620],[265,540],[270,550],[275,680],[280,680],[285,620],[290,560],[295,450],[300,430],[305,380],[310,420],[315,660],[320,660],[325,600],[330,580],[335,650],[340,640],[345,600],[350,560],[355,660],[360,670],[365,500],[370,560],[375,650],[380,480],[385,420],[390,360],[393,550],[396,900],[400,1050],[405,1000],[410,1100],[415,1050],[420,1250],[425,1270],[430,1200],[435,1150],[440,1000],[445,1100],[450,1200],[455,1180],[460,620],[465,580],[470,1100],[475,1200],[480,1150],[485,1150],[490,660],[495,560],[500,1000],[505,1150],[510,1100],[515,1200],[520,1100],[525,1250],[530,700],[535,600],[540,1100],[545,1200],[550,1150],[555,1000],[560,1150],[565,1250],[570,1200],[575,1320],[580,1200],[585,1100],[590,1200],[595,1250],[600,1050],[605,700],[610,600],[615,1150],[620,1200],[625,1150],[630,1100],[635,1250],[640,1100],[645,600],[650,580],[655,560],[660,1000],[665,1150],[670,700],[675,600],[680,600],[685,1150],[690,1250],[695,1200],[700,1100],[705,620],[710,600],[715,1100],[720,1200],[725,1250],[730,1280],[735,1150],[740,1100],[745,700],[750,620],[755,1200],[760,1180],[765,1150],[770,1250],[775,1100],[780,700],[785,620],[790,560],[795,1100],[800,1200],[805,1150],[810,1100],[815,700],[820,650],[825,1200],[830,1100],[835,1200],[840,1150],[845,900],[850,650],[855,600],[860,920],[865,880],[870,920],[875,650],[880,600],[885,1100],[890,1150],[895,1200],[900,1050],[905,650],[910,1200],[915,1280],[920,1250],[925,1150],[930,1280],[935,600],[938,440],[942,580],[946,560],[950,1100],[955,1050],[960,1150],[965,1200],[970,1100],[975,1000],[980,600],[985,550],[990,1000],[995,1150],[999,970]];

// ---------- Axis ranges & ticks ----------
const yMins = [12, 580, 398, 610, 2400, 1061, -40, 1515, 375, 68, 700, 275];
const yMaxs = [1276, 3975, 1687, 2100, 7285, 1840, 3125, 8860, 4000, 1437, 2530, 1375];
const yTickLists = [
  [200, 400, 600, 800, 1000, 1200],
  [1000, 1500, 2000, 2500, 3000, 3500],
  [400, 600, 800, 1000, 1200, 1400, 1600],
  [800, 1000, 1200, 1400, 1600, 1800, 2000],
  [3000, 4000, 5000, 6000, 7000],
  [1100, 1200, 1300, 1400, 1500, 1600, 1700, 1800],
  [0, 500, 1000, 1500, 2000, 2500, 3000],
  [2000, 3000, 4000, 5000, 6000, 7000, 8000],
  [500, 1000, 1500, 2000, 2500, 3000, 3500],
  [200, 400, 600, 800, 1000, 1200, 1400],
  [750, 1000, 1250, 1500, 1750, 2000, 2250, 2500],
  [400, 600, 800, 1000, 1200],
];
const baseSeries = [assaultMeanBase, assaultHighBase, assaultValBase, asteroidsMeanBase, asteroidsHighBase, asteroidsValBase, pacmanMeanBase, pacmanHighBase, pacmanValBase, invadersMeanBase, invadersHighBase, invadersValBase];
const methodSeries = [assaultMeanMethod, assaultHighMethod, assaultValMethod, asteroidsMeanMethod, asteroidsHighMethod, asteroidsValMethod, pacmanMeanMethod, pacmanHighMethod, pacmanValMethod, invadersMeanMethod, invadersHighMethod, invadersValMethod];

// ---------- Layout ----------
const colLeft = [119, 499, 879];
const rowTop = [112, 385, 657, 929];
const plotW = 269;
const plotH = 202;
const legendPos: Record<number, [number, number]> = { 1: [583, 269], 8: [963, 813] };

const BLUE = "#0000ff";
const RED = "#ff0000";
const SERIF = "'Liberation Serif', 'Times New Roman', serif";
const SANS = "'DejaVu Sans', sans-serif";

export default function App() {
  const ref = useRef<HTMLDivElement>(null);
  useEffect(() => {
    if (!ref.current) return;
    const chart = echarts.init(ref.current, undefined, { renderer: "svg" });
    const grids: any[] = [];
    const xAxes: any[] = [];
    const yAxes: any[] = [];
    const series: any[] = [];
    const legends: any[] = [];
    const plain = (v: number) => String(v);
    for (let i = 0; i < 12; i++) {
      const r = Math.floor(i / 3);
      const c = i % 3;
      grids.push({ left: colLeft[c], top: rowTop[r], width: plotW, height: plotH, show: true, borderColor: "#000", borderWidth: 1, backgroundColor: "transparent" });
      xAxes.push({
        type: "value", gridIndex: i, min: -49.95, max: 1048.95,
        axisLine: { show: false }, splitLine: { show: false },
        axisTick: { show: true, length: 4, lineStyle: { color: "#000" }, customValues: xTicks },
        axisLabel: { customValues: xTicks, formatter: plain, fontFamily: SANS, fontSize: 13, color: "#1a1a1a", margin: 4 },
      });
      yAxes.push({
        type: "value", gridIndex: i, min: yMins[i], max: yMaxs[i],
        axisLine: { show: false }, splitLine: { show: false },
        axisTick: { show: true, length: 4, lineStyle: { color: "#000" }, customValues: yTickLists[i] },
        axisLabel: { customValues: yTickLists[i], formatter: plain, fontFamily: SANS, fontSize: 13, color: "#1a1a1a", margin: 4 },
      });
      series.push({
        type: "line", name: seriesNames[0], xAxisIndex: i, yAxisIndex: i, data: baseSeries[i],
        symbol: "none", showSymbol: false, silent: true, z: 2,
        lineStyle: { color: BLUE, width: 1.4 }, itemStyle: { color: BLUE },
      });
      series.push({
        type: "line", name: seriesNames[1], xAxisIndex: i, yAxisIndex: i, data: methodSeries[i],
        symbol: "none", showSymbol: false, silent: true, z: 3,
        lineStyle: { color: RED, width: 1.4 }, itemStyle: { color: RED },
      });
      const lp = legendPos[i] || [colLeft[c] + 6, rowTop[r] + 7];
      legends.push({
        data: seriesNames, orient: "vertical", left: lp[0], top: lp[1],
        icon: "rect", itemWidth: 26, itemHeight: 1.5, itemGap: 3, padding: [3, 6, 3, 4],
        borderColor: "#cccccc", borderWidth: 1, borderRadius: 3, backgroundColor: "rgba(255,255,255,0.8)",
        selectedMode: false, z: 10,
        formatter: (n: string) => (n === "Method II" ? "Method {b|II}" : n),
        textStyle: { fontFamily: SANS, fontSize: 13, color: "#1a1a1a", lineHeight: 15, padding: [0, 0, 0, 4],
          rich: { b: { fontFamily: SANS, fontSize: 13, fontWeight: "bold", color: "#1a1a1a" } } },
      });
    }
    const rowLabels = [
      { text: "{a|A}{b|SSAULT}", y: 195 },
      { text: "{a|A}{b|STEROIDS}", y: 455 },
      { text: "{a|M}{b|S}{a|P}{b|ACMAN}", y: 756 },
      { text: "{a|S}{b|PACE }{a|I}{b|NVADERS}", y: 1001 },
    ];
    const rich = {
      a: { fontFamily: SERIF, fontSize: 28, color: "#000", verticalAlign: "bottom" },
      b: { fontFamily: SERIF, fontSize: 22, color: "#000", verticalAlign: "bottom" },
    };
    const graphic: any[] = [
      { type: "text", x: 601, y: 21, style: { text: mainTitle, font: `32px ${SERIF}`, fill: "#000", align: "center", verticalAlign: "middle", textAlign: "center", textVerticalAlign: "middle" } },
      { type: "line", shape: { x1: 6, y1: 43, x2: 1156, y2: 43 }, style: { stroke: "#000", lineWidth: 1 } },
      ...columnTitles.map((t, k) => ({ type: "text", x: [249, 629, 1009][k], y: 62, style: { text: t, font: `31px ${SERIF}`, fill: "#000", align: "center", verticalAlign: "middle", textAlign: "center", textVerticalAlign: "middle" } })),
      ...rowLabels.map((l) => ({ type: "text", x: 33, y: l.y, rotation: Math.PI / 2, style: { text: l.text, rich, fill: "#000", align: "center", verticalAlign: "middle", textAlign: "center", textVerticalAlign: "middle" } })),
    ];
    chart.setOption({
      animation: false,
      backgroundColor: "#fff",
      grid: grids, xAxis: xAxes, yAxis: yAxes, series, legend: legends, graphic,
    });
    return () => chart.dispose();
  }, []);
  return <div ref={ref} style={{ position: "absolute", left: 0, top: 0, width: "1156px", height: "1148px" }} />;
}
